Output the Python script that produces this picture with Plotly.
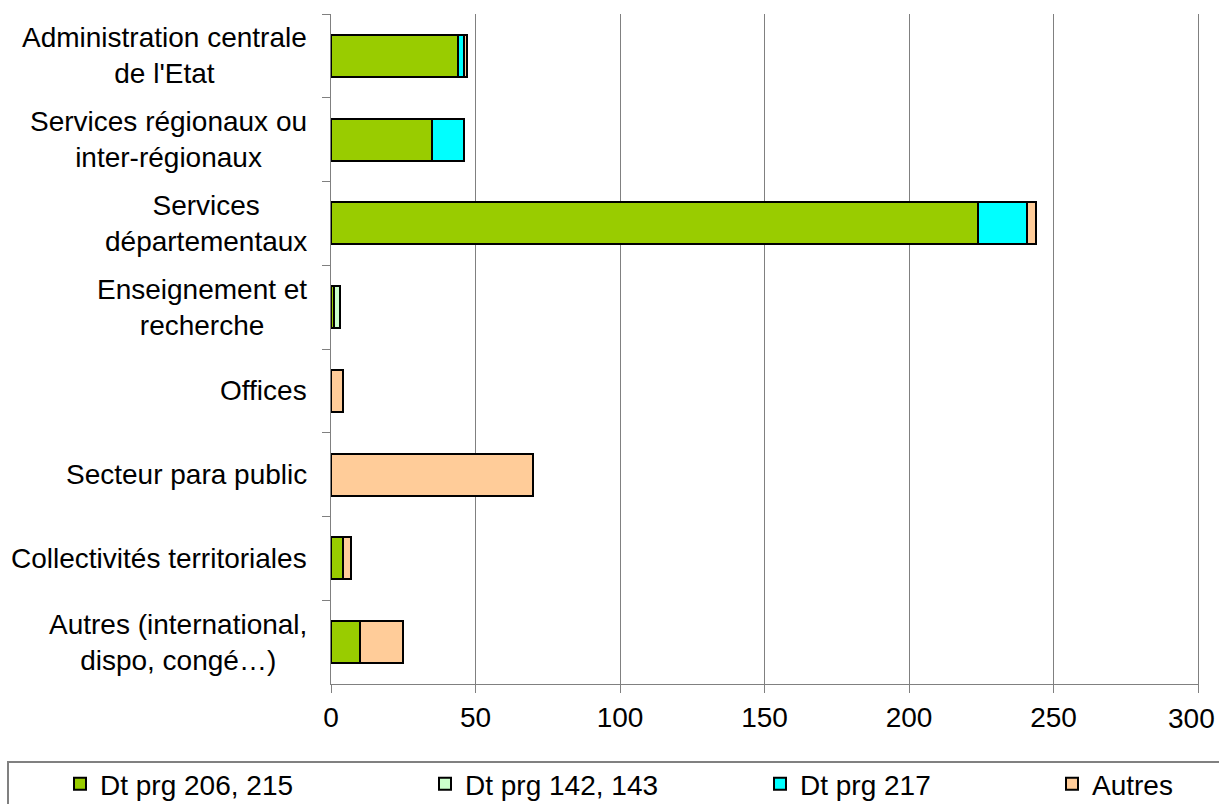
import plotly.graph_objects as go

categories = [
    "Administration centrale<br>de l'Etat",
    "Services régionaux ou<br>inter-régionaux",
    "Services<br>départementaux",
    "Enseignement et<br>recherche",
    "Offices",
    "Secteur para public",
    "Collectivités territoriales",
    "Autres (international,<br>dispo, congé…)",
]
series_names = ["Dt prg 206, 215", "Dt prg 142, 143", "Dt prg 217", "Autres"]
dt_206_215 = [44, 35, 224, 1, None, None, 4, 10]
dt_142_143 = [None, None, None, 2, None, None, None, None]
dt_217 = [2, 11, 17, None, None, None, None, None]
autres = [1, None, 3, None, 4, 70, 3, 15]
x_ticks = [0, 50, 100, 150, 200, 250, 300]
x_tick_labels = ["0", "50", "100", "150", "200", "250", "300"]

colors = ["#99CC00", "#CCFFCC", "#00FFFF", "#FFCC99"]
FONT = "Liberation Sans, Arial, sans-serif"
FS = 28

W, H = 1219, 804
ML, MR, MT, MB = 331, 21, 14, 120
PW, PH = W - ML - MR, H - MT - MB

def px_to_paper_x(px):
    return (px - ML) / PW

def px_to_paper_y(py):
    return (H - MB - py) / PH

fig = go.Figure()
legend_ids = ["legend", "legend2", "legend3", "legend4"]
for name, vals, col, lg in zip(series_names, [dt_206_215, dt_142_143, dt_217, autres], colors, legend_ids):
    fig.add_trace(go.Bar(
        y=categories, x=vals, name=name, orientation="h",
        marker=dict(color=col, line=dict(color="black", width=2)),
        width=0.5, legend=lg, showlegend=True,
    ))

legend_left_px = [60, 425, 760, 1052]
legend_cfg = {}
for lg, lx in zip(legend_ids, legend_left_px):
    legend_cfg[lg] = dict(
        x=px_to_paper_x(lx), xanchor="left",
        y=px_to_paper_y(784), yanchor="middle",
        orientation="h", bgcolor="rgba(0,0,0,0)", borderwidth=0,
        font=dict(family=FONT, size=FS, color="black"),
        itemwidth=30, visible=True,
    )

annotations = []
for c in categories:
    annotations.append(dict(
        x=0, xref="paper", y=c, yref="y", text=c, showarrow=False,
        xanchor="right", yanchor="middle", align="center", xshift=-22,
        font=dict(family=FONT, size=FS, color="black"),
    ))
# last x tick label, nudged left so that it stays inside the page like in the reference
annotations.append(dict(
    x=x_ticks[-1], xref="x", y=0, yref="paper", text=x_tick_labels[-1],
    showarrow=False, xanchor="center", yanchor="middle", xshift=-7, yshift=-34,
    font=dict(family=FONT, size=FS, color="black"),
))

shapes = [dict(
    type="rect", xref="paper", yref="paper",
    x0=px_to_paper_x(8), x1=px_to_paper_x(1240),
    y0=px_to_paper_y(762), y1=px_to_paper_y(820),
    line=dict(color="#808080", width=2), fillcolor="rgba(0,0,0,0)", layer="above",
)]

tick_text = x_tick_labels[:-1] + [""]

fig.update_layout(
    width=W, height=H,
    margin=dict(l=ML, r=MR, t=MT, b=MB, autoexpand=False),
    barmode="stack",
    showlegend=True,
    paper_bgcolor="white", plot_bgcolor="white",
    font=dict(family=FONT, size=FS, color="black"),
    annotations=annotations, shapes=shapes,
    **legend_cfg,
)
fig.update_xaxes(
    range=[0, 300], tickvals=x_ticks, ticktext=tick_text,
    showgrid=True, gridcolor="#808080", gridwidth=1,
    showline=True, linecolor="#808080", linewidth=1,
    ticks="outside", ticklen=8, tickcolor="#808080",
    tickfont=dict(family=FONT, size=FS, color="black"),
    ticklabeloverflow="allow",
    zeroline=False, fixedrange=True,
)
fig.update_yaxes(
    autorange="reversed", showticklabels=False,
    showline=True, linecolor="#808080", linewidth=1, mirror=True,
    ticks="outside", ticklen=8, tickcolor="#808080", tickson="boundaries",
    showgrid=False, zeroline=False,
)

fig.write_html(
    "out.html",
    config={"displayModeBar": False},
    post_script="document.body.style.margin='0';document.body.style.overflow='hidden';",
)
